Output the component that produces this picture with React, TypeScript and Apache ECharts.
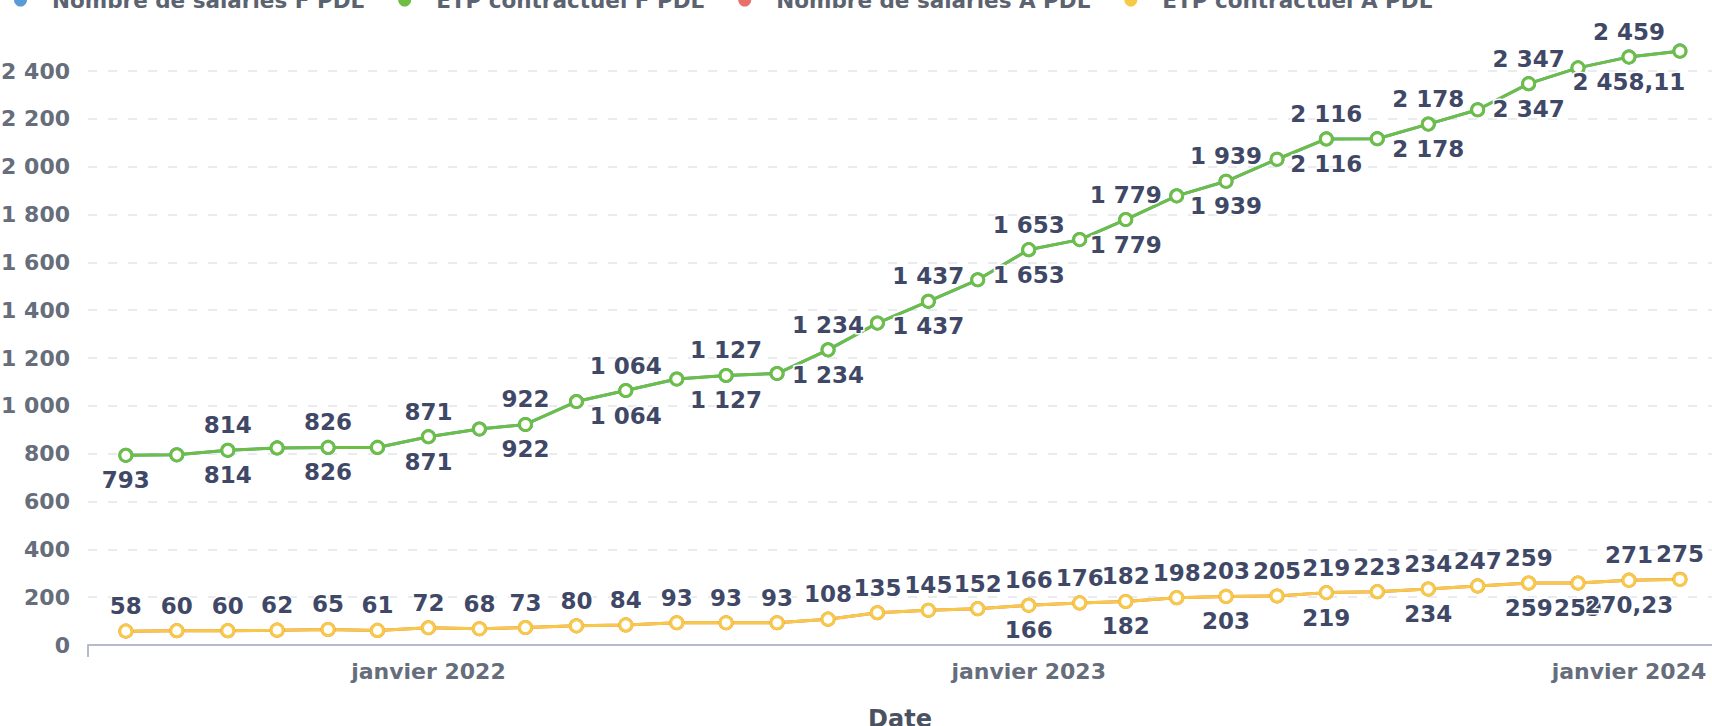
import React, { useEffect, useRef } from "react";
import * as echarts from "echarts";

// ---- Data ----
const months = [
  "2021-07", "2021-08", "2021-09", "2021-10", "2021-11", "2021-12",
  "2022-01", "2022-02", "2022-03", "2022-04", "2022-05", "2022-06",
  "2022-07", "2022-08", "2022-09", "2022-10", "2022-11", "2022-12",
  "2023-01", "2023-02", "2023-03", "2023-04", "2023-05", "2023-06",
  "2023-07", "2023-08", "2023-09", "2023-10", "2023-11", "2023-12",
  "2024-01", "2024-02",
];

const nombreF = [793, 795, 814, 824, 826, 826, 871, 903, 922, 1018, 1064, 1112, 1127, 1135, 1234, 1346, 1437, 1527, 1653, 1695, 1779, 1878, 1939, 2031, 2116, 2117, 2178, 2238, 2347, 2413, 2459, 2484];
const etpF = [793, 795, 814, 824, 826, 826, 871, 903, 922, 1018, 1064, 1112, 1127, 1135, 1234, 1346, 1437, 1527, 1653, 1695, 1779, 1878, 1939, 2031, 2116, 2117, 2178, 2238, 2347, 2413, 2458.11, 2483];
const nombreA = [58, 60, 60, 62, 65, 61, 72, 68, 73, 80, 84, 93, 93, 93, 108, 135, 145, 152, 166, 176, 182, 198, 203, 205, 219, 223, 234, 247, 259, 259, 271, 275];
const etpA = [58, 60, 60, 62, 65, 61, 72, 68, 73, 80, 84, 93, 93, 93, 108, 135, 145, 152, 166, 176, 182, 198, 203, 205, 219, 223, 234, 247, 259, 259, 270.23, 274];

const seriesNames = [
  "Nombre de salariés F PDL",
  "ETP contractuel F PDL",
  "Nombre de salariés A PDL",
  "ETP contractuel A PDL",
];

// which points carry a visible data label
const labelsNombreF = [2, 4, 6, 8, 10, 12, 14, 16, 18, 20, 22, 24, 26, 28, 30];
const labelsEtpF = [0, 2, 4, 6, 8, 10, 12, 14, 16, 18, 20, 22, 24, 26, 28, 30];
const labelsNombreA = [0, 1, 2, 3, 4, 5, 6, 7, 8, 9, 10, 11, 12, 13, 14, 15, 16, 17, 18, 19, 20, 21, 22, 23, 24, 25, 26, 27, 28, 30, 31];
const labelsEtpA = [18, 20, 22, 24, 26, 28, 29, 30];

const yTicks = { min: 0, max: 2400, interval: 200 };

// ---- Styling ----
const FONT = '"DejaVu Sans", sans-serif';
const COLORS = ["#5b9bd5", "#6cbe45", "#e8706a", "#f7c948"];
const LABEL_COLOR = "#3f4866";
const AXIS_COLOR = "#666d7b";

function toDate(m: string) {
  const [y, mo] = m.split("-").map(Number);
  return new Date(y, mo - 1, 1).getTime();
}

function fmt(v: number) {
  const s = String(v);
  const [i, d] = s.split(".");
  const int = i.replace(/\B(?=(\d{3})+(?!\d))/g, " ");
  return d ? int + "," + d : int;
}

function buildData(values: number[], labelIdx: number[]) {
  return values.map((v, i) => ({
    value: [toDate(months[i]), v],
    label: { show: labelIdx.includes(i) },
  }));
}

export default function App() {
  const ref = useRef<HTMLDivElement>(null);

  useEffect(() => {
    if (!ref.current) return;
    const chart = echarts.init(ref.current, undefined, { renderer: "svg" });

    const mk = (idx: number, values: number[], labelIdx: number[], pos: "top" | "bottom") => ({
      name: seriesNames[idx],
      type: "line",
      clip: false,
      data: buildData(values, labelIdx),
      symbol: "circle",
      symbolSize: 12,
      showAllSymbol: true,
      lineStyle: { color: COLORS[idx], width: 3 },
      itemStyle: { color: "#ffffff", borderColor: COLORS[idx], borderWidth: 3 },
      label: {
        position: pos,
        distance: 6,
        fontFamily: FONT,
        fontWeight: "bold",
        fontSize: 23,
        color: LABEL_COLOR,
        textBorderColor: "#ffffff",
        textBorderWidth: 3,
        formatter: (p: any) => fmt(p.value[1]),
      },
      emphasis: { disabled: true },
    });

    chart.setOption({
      animation: false,
      backgroundColor: "#ffffff",
      legend: {
        top: -16,
        left: 9,
        itemGap: 34,
        itemWidth: 13,
        itemHeight: 13,
        textStyle: {
          fontFamily: FONT,
          fontWeight: "bold",
          fontSize: 21.5,
          color: "#5c6370",
          padding: [0, 0, 0, 20],
        },
        data: seriesNames.map((n, i) => ({ name: n, icon: "circle", itemStyle: { color: COLORS[i], borderWidth: 0 } })),
      },
      grid: { left: 88, right: 0, top: 71, bottom: 81, containLabel: false, outerBoundsMode: "none" },
      xAxis: {
        type: "time",
        min: new Date(2021, 5, 8).getTime(),
        max: new Date(2024, 1, 20, 12).getTime(),
        name: "Date",
        nameLocation: "middle",
        nameGap: 62,
        nameTextStyle: { fontFamily: FONT, fontWeight: "bold", fontSize: 24, color: "#4a5262" },
        axisLine: { show: true, lineStyle: { color: "#b6bacb", width: 2 } },
        axisTick: { show: false },
        splitLine: { show: false },
        axisLabel: {
          margin: 15,
          fontFamily: FONT,
          fontWeight: "bold",
          fontSize: 22,
          color: AXIS_COLOR,
          hideOverlap: false,
          formatter: (v: number) => {
            const d = new Date(v);
            return d.getMonth() === 0 && d.getDate() === 1 ? "janvier " + d.getFullYear() : "";
          },
        },
      },
      yAxis: {
        type: "value",
        min: yTicks.min,
        max: yTicks.max,
        interval: yTicks.interval,
        axisLine: { show: false },
        axisTick: { show: false },
        splitLine: { show: true, lineStyle: { color: "#e3e5ea", width: 1.5, type: [9, 11] } },
        axisLabel: {
          margin: 18,
          fontFamily: FONT,
          fontWeight: "bold",
          fontSize: 22,
          color: AXIS_COLOR,
          formatter: (v: number) => fmt(v),
        },
      },
      graphic: [
        { type: "line", shape: { x1: 88, y1: 645, x2: 88, y2: 657 }, style: { stroke: "#b6bacb", lineWidth: 2 } },
      ],
      series: [
        mk(0, nombreF, labelsNombreF, "top"),
        mk(1, etpF, labelsEtpF, "bottom"),
        mk(2, nombreA, labelsNombreA, "top"),
        mk(3, etpA, labelsEtpA, "bottom"),
      ],
    });

    return () => chart.dispose();
  }, []);

  return (
    <div
      ref={ref}
      style={{ position: "fixed", left: 0, top: 0, width: 1712, height: 726, background: "#fff" }}
    />
  );
}
